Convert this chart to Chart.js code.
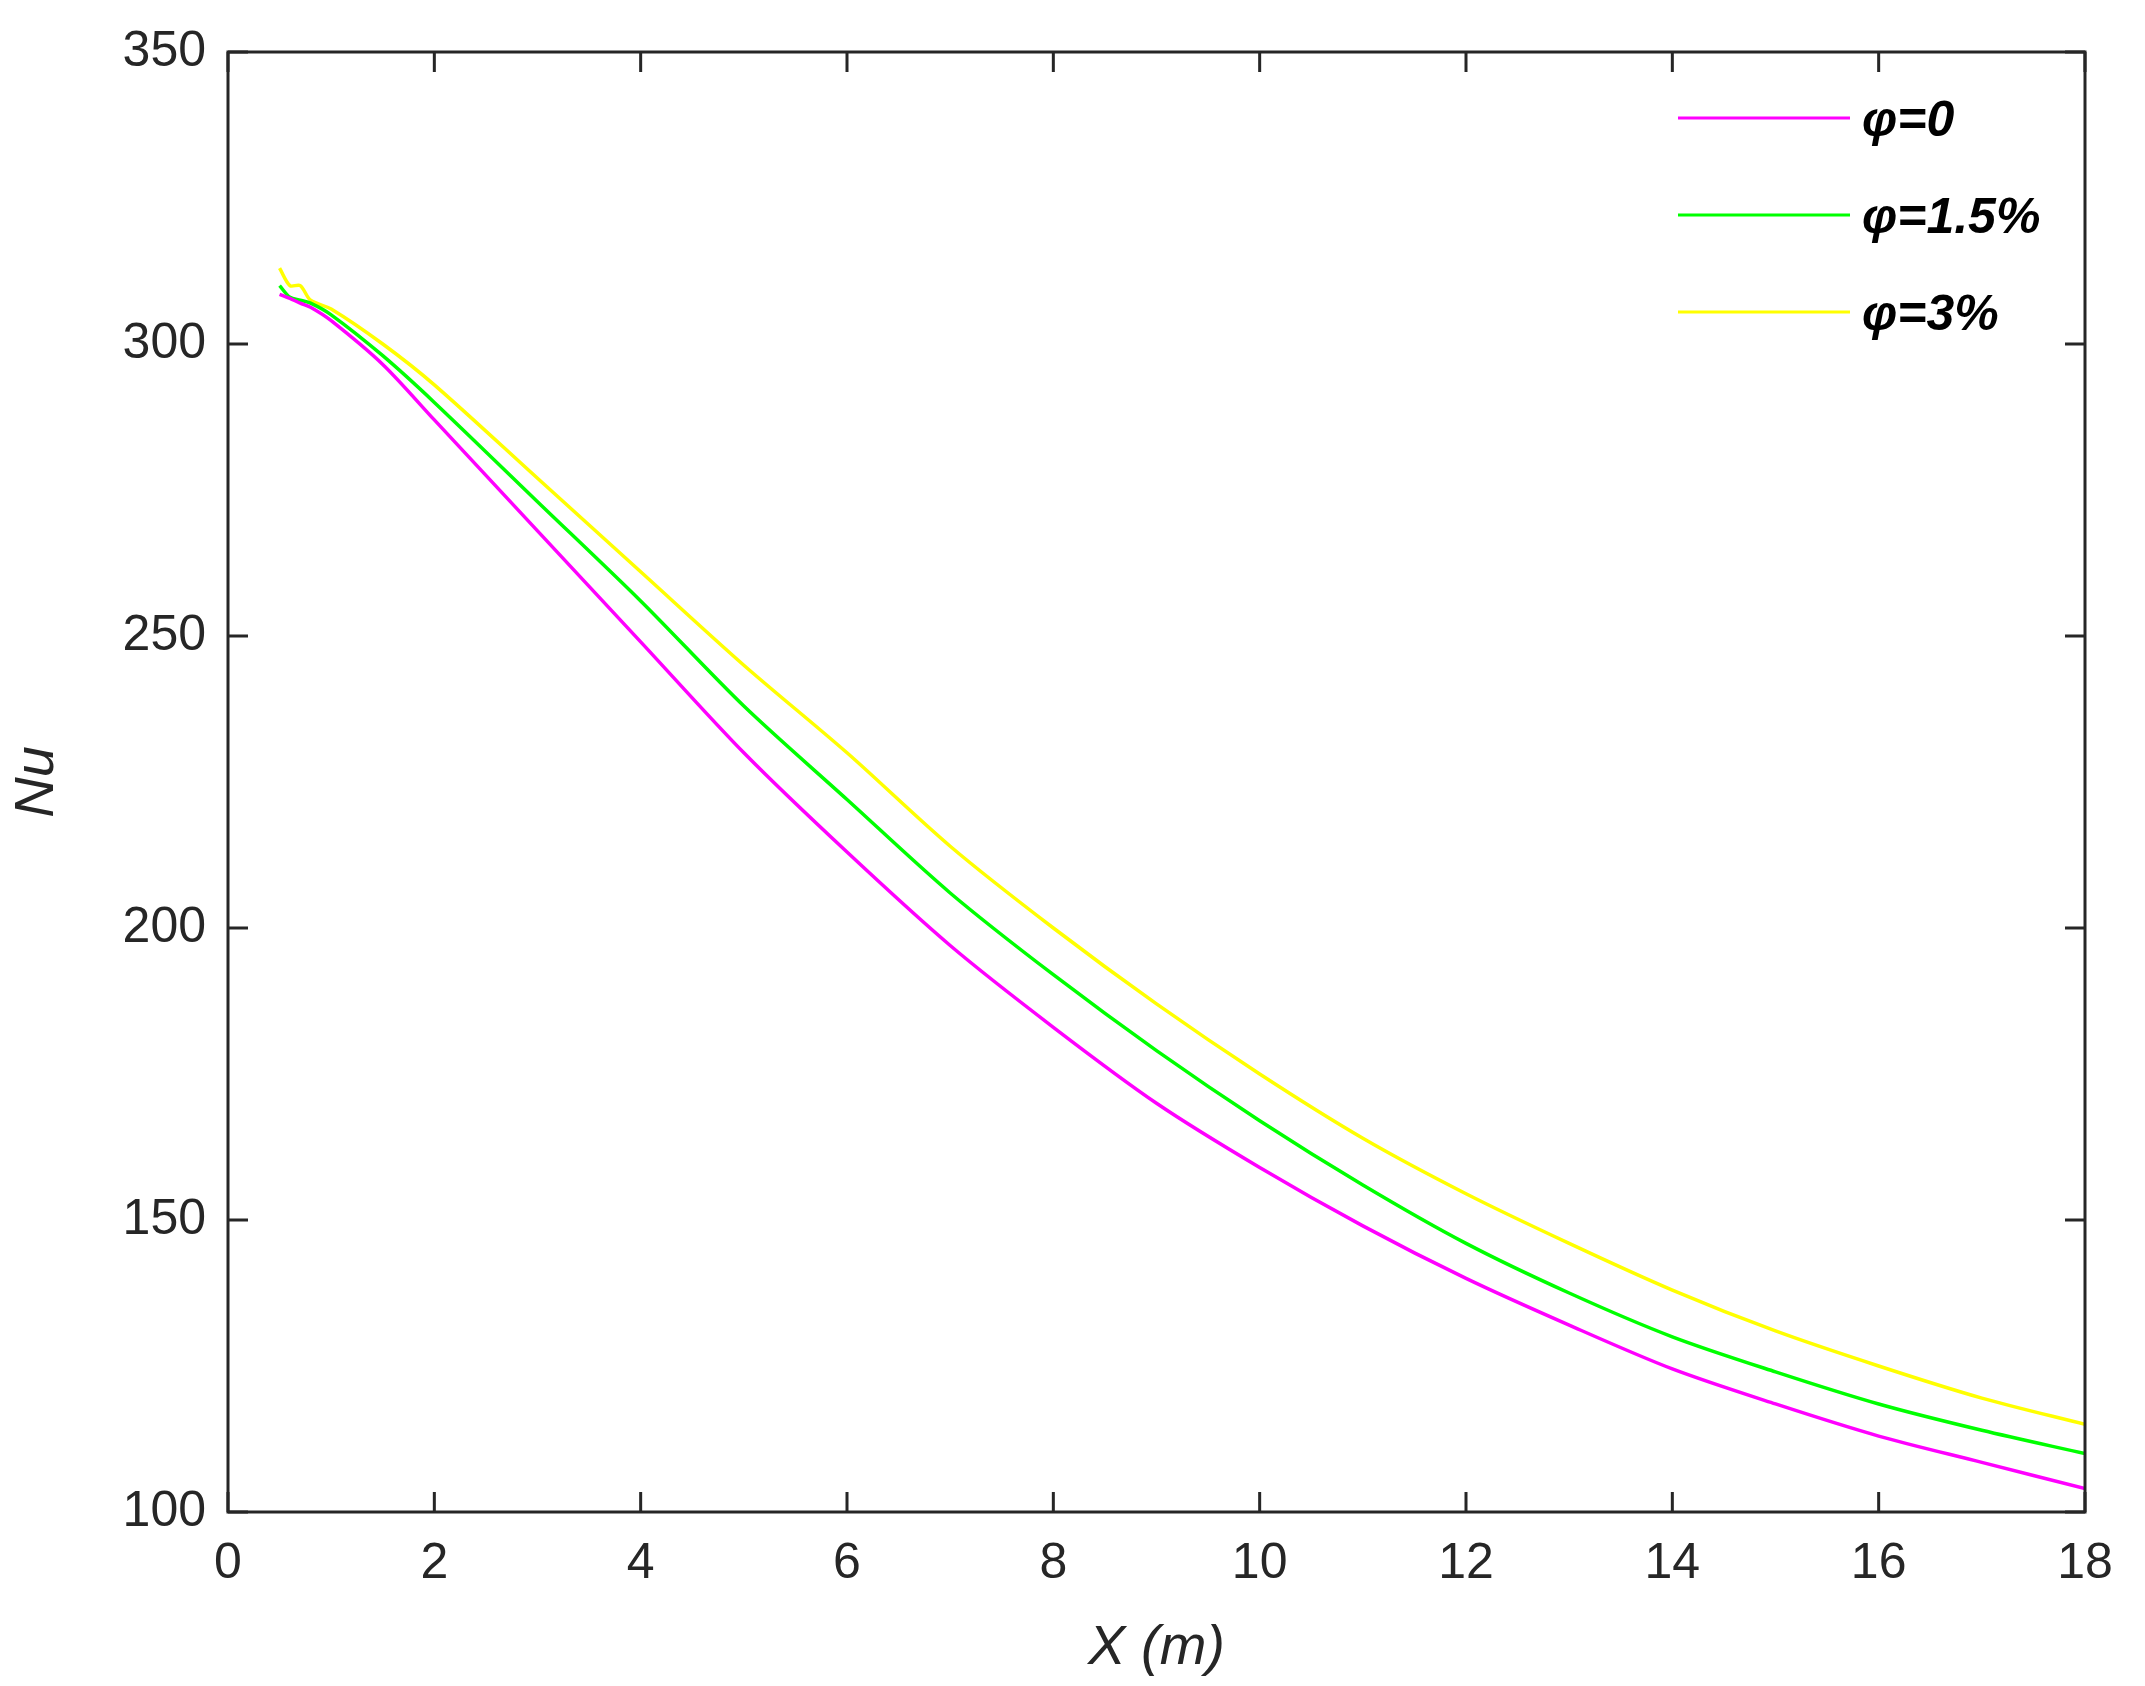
<!DOCTYPE html>
<html>
<head>
<meta charset="utf-8">
<script src="https://cdn.jsdelivr.net/npm/chart.js@4"></script>
<style>
  body { margin: 0; background: white; }
  canvas { display: block; }
</style>
</head>
<body>
<canvas id="myChart" width="2145" height="1686"></canvas>
<script>
const xValues = [0.5, 0.6, 0.7, 0.8, 1, 1.5, 2, 3, 4, 5, 6, 7, 8, 9, 10, 11, 12, 13, 14, 15, 16, 17, 18];
const nuPhi0 = [308.5, 307.8, 307, 306.3, 304, 296.5, 287, 268, 249, 230, 213, 197, 183, 170, 159, 149, 140, 132, 124.5, 118.5, 113, 108.5, 104];
const nuPhi15 = [310, 308, 307.5, 307, 305, 298, 290, 273, 256, 238, 222, 206, 192, 179, 167, 156, 146, 137.5, 130, 124, 118.5, 114, 110];
const nuPhi3 = [313, 310, 310, 307.5, 306, 300, 293, 277, 261, 245, 230, 214, 200, 187, 175, 164, 154.5, 146, 138, 131, 125, 119.5, 115];
const seriesNames = ["φ=0", "φ=1.5%", "φ=3%"];
const seriesColors = ["#ff00ff", "#00ff00", "#ffff00"];
const xTicks = [0, 2, 4, 6, 8, 10, 12, 14, 16, 18];
const yTicks = [100, 150, 200, 250, 300, 350];

const fontFamily = "'Liberation Sans', Arial, sans-serif";
const toPoints = (ys) => xValues.map((x, i) => ({ x: x, y: ys[i] }));

// box and inward ticks like MATLAB
const framePlugin = {
  id: "frame",
  afterDraw(chart) {
    const ctx = chart.ctx;
    const a = chart.chartArea;
    const xs = chart.scales.x;
    const ys = chart.scales.y;
    ctx.save();
    ctx.strokeStyle = "#262626";
    ctx.lineWidth = 3;
    ctx.strokeRect(a.left, a.top, a.right - a.left, a.bottom - a.top);
    const len = 20;
    xTicks.forEach((t) => {
      const px = xs.getPixelForValue(t);
      ctx.beginPath();
      ctx.moveTo(px, a.bottom); ctx.lineTo(px, a.bottom - len);
      ctx.moveTo(px, a.top); ctx.lineTo(px, a.top + len);
      ctx.stroke();
    });
    yTicks.forEach((t) => {
      const py = ys.getPixelForValue(t);
      ctx.beginPath();
      ctx.moveTo(a.left, py); ctx.lineTo(a.left + len, py);
      ctx.moveTo(a.right, py); ctx.lineTo(a.right - len, py);
      ctx.stroke();
    });
    // legend
    ctx.font = "italic bold 50px " + fontFamily;
    ctx.textBaseline = "middle";
    ctx.fillStyle = "#000";
    seriesNames.forEach((name, i) => {
      const y = 118 + i * 97;
      ctx.strokeStyle = seriesColors[i];
      ctx.lineWidth = 3;
      ctx.beginPath();
      ctx.moveTo(1678, y); ctx.lineTo(1850, y);
      ctx.stroke();
      ctx.fillText(name, 1862, y + 4);
    });
    ctx.restore();
  }
};

const config = {
  type: "line",
  data: {
    datasets: [
      { label: seriesNames[0], data: toPoints(nuPhi0), borderColor: seriesColors[0] },
      { label: seriesNames[1], data: toPoints(nuPhi15), borderColor: seriesColors[1] },
      { label: seriesNames[2], data: toPoints(nuPhi3), borderColor: seriesColors[2] }
    ].map((d) => Object.assign(d, { borderWidth: 3.5, pointRadius: 0, tension: 0.3, fill: false }))
  },
  options: {
    responsive: false,
    devicePixelRatio: 1,
    animation: false,
    layout: { padding: { top: 42, right: 60, left: 0, bottom: 0 } },
    plugins: { legend: { display: false }, tooltip: { enabled: false } },
    scales: {
      x: {
        type: "linear", min: 0, max: 18,
        afterBuildTicks: (s) => { s.ticks = xTicks.map((v) => ({ value: v })); },
        afterFit: (s) => { s.height = 174; },
        grid: { display: false, drawTicks: false },
        border: { display: false },
        ticks: { color: "#262626", font: { family: fontFamily, size: 50 }, padding: 22, maxRotation: 0 },
        title: { display: true, text: "X (m)", color: "#262626", font: { family: fontFamily, size: 56, style: "italic" }, padding: { top: -4 } }
      },
      y: {
        type: "linear", min: 100, max: 350,
        afterBuildTicks: (s) => { s.ticks = yTicks.map((v) => ({ value: v })); },
        afterFit: (s) => { s.width = 228; },
        grid: { display: false, drawTicks: false },
        border: { display: false },
        ticks: { color: "#262626", font: { family: fontFamily, size: 50 }, padding: 22 },
        title: { display: true, text: "Nu", color: "#262626", font: { family: fontFamily, size: 56, style: "italic" }, padding: { bottom: 0 } }
      }
    }
  },
  plugins: [framePlugin]
};

new Chart(document.getElementById("myChart"), config);
</script>
</body>
</html>
